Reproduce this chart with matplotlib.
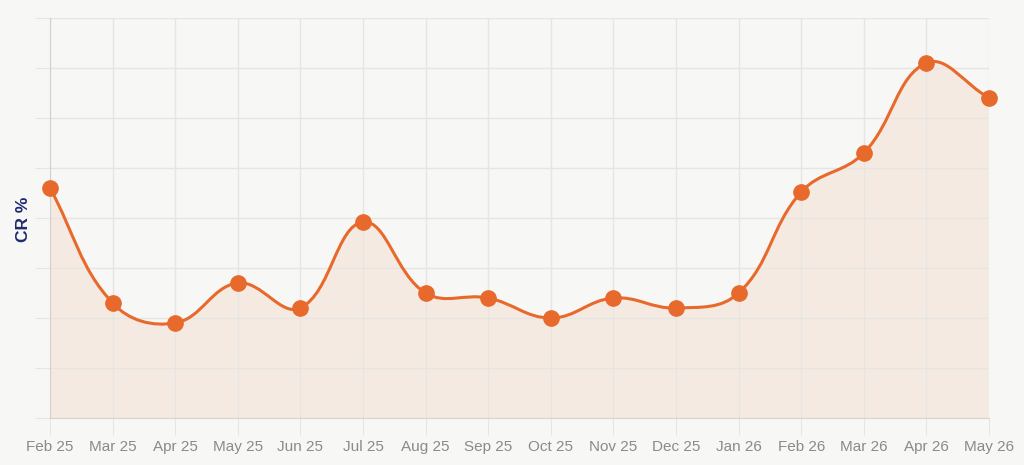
import numpy as np
import matplotlib.pyplot as plt
from matplotlib.path import Path
from matplotlib.patches import PathPatch

months = ['Feb 25', 'Mar 25', 'Apr 25', 'May 25', 'Jun 25', 'Jul 25', 'Aug 25', 'Sep 25',
          'Oct 25', 'Nov 25', 'Dec 25', 'Jan 26', 'Feb 26', 'Mar 26', 'Apr 26', 'May 26']
cr = [4.6, 2.3, 1.9, 2.7, 2.2, 3.92, 2.5, 2.4, 2.0, 2.4, 2.2, 2.5, 4.52, 5.3, 7.1, 6.4]

bg = '#f7f7f5'
line_col = '#e8692c'
grid_col = '#e6e5e2'

plt.rcParams['font.family'] = ['Liberation Sans', 'DejaVu Sans']

fig = plt.figure(figsize=(10.24, 4.65), dpi=100, facecolor=bg)
ax = fig.add_axes([50 / 1024, 47 / 465, 939 / 1024, 400 / 465], facecolor=bg)
ax.set_xlim(0, len(months) - 1)
ax.set_ylim(0, 8)

x = np.arange(len(months))
y = np.array(cr, dtype=float)

# chart.js style bezier (tension 0.4), computed in pixel space
pts = ax.transData.transform(np.column_stack([x, y]))
t = 0.4
verts = [tuple(pts[0])]
codes = [Path.MOVETO]
cps = []
for i in range(len(pts)):
    prev = pts[max(i - 1, 0)]
    cur = pts[i]
    nxt = pts[min(i + 1, len(pts) - 1)]
    d01 = np.hypot(*(cur - prev))
    d12 = np.hypot(*(nxt - cur))
    s01 = d01 / (d01 + d12) if d01 + d12 else 0
    s12 = d12 / (d01 + d12) if d01 + d12 else 0
    cp_prev = cur - t * s01 * (nxt - prev)
    cp_next = cur + t * s12 * (nxt - prev)
    cps.append((cp_prev, cp_next))
for i in range(1, len(pts)):
    verts += [tuple(cps[i - 1][1]), tuple(cps[i][0]), tuple(pts[i])]
    codes += [Path.CURVE4] * 3
inv = ax.transData.inverted()
dverts = inv.transform(np.array(verts))

curve = Path(dverts, codes)
ax.add_patch(PathPatch(curve, facecolor='none', edgecolor=line_col, lw=2.2, zorder=3))

fill_verts = list(dverts) + [(x[-1], 0), (x[0], 0), tuple(dverts[0])]
fill_codes = codes + [Path.LINETO, Path.LINETO, Path.CLOSEPOLY]
ax.add_patch(PathPatch(Path(fill_verts, fill_codes), facecolor=line_col, alpha=0.09,
                       edgecolor='none', zorder=1))

ax.plot(x, y, 'o', color=line_col, ms=11, zorder=4, clip_on=False)

ax.set_xticks(x)
ax.set_xticklabels(months, fontsize=11, color='#8a8a86')
ax.set_yticks(np.arange(0, 9))
ax.set_yticklabels([])
ax.tick_params(axis='x', length=12, color=grid_col, pad=4)
ax.tick_params(axis='y', length=11, color=grid_col)
ax.grid(True, color=grid_col, lw=1, zorder=0)
for s in ['top', 'right']:
    ax.spines[s].set_visible(False)
ax.spines['left'].set_color('#d2d1cd')
ax.spines['bottom'].set_color('#d8d3cc')

fig.text(24 / 1024, 1 - 219 / 465, 'CR %', rotation=90, ha='center', va='center',
         fontsize=12.5, fontweight='bold', color='#1e2a6e')

fig.savefig('out.png', dpi=100, facecolor=bg)
